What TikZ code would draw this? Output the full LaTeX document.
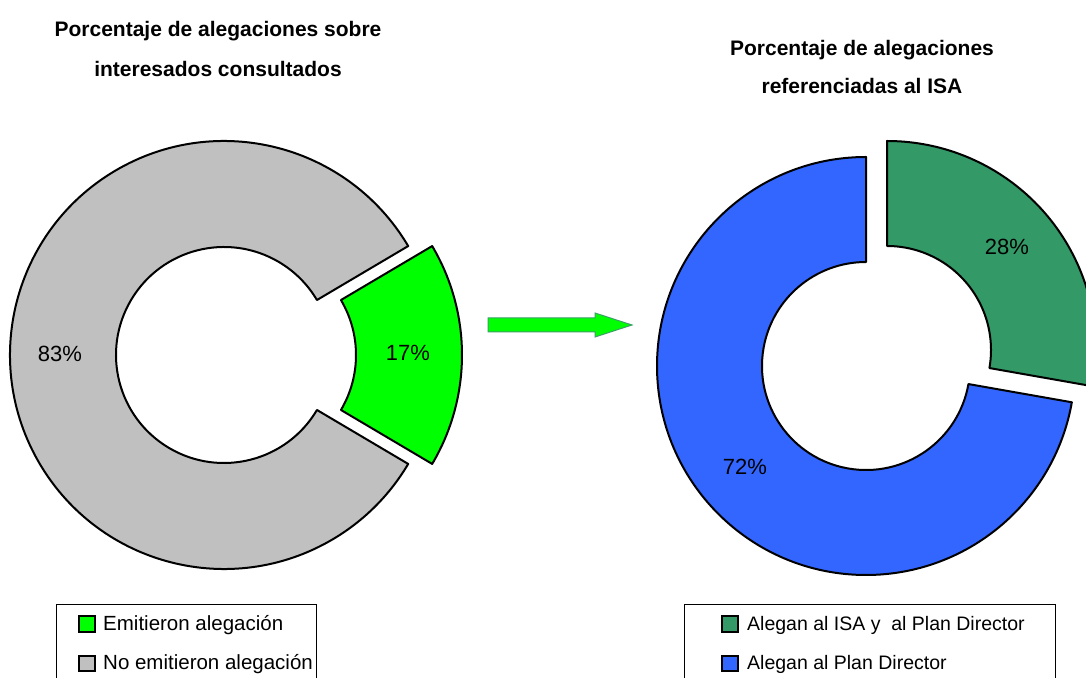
\documentclass[tikz,border=0pt]{standalone}
\usepackage{fontspec}
\setmainfont{Liberation Sans}

\definecolor{gris}{HTML}{C0C0C0}
\definecolor{verde}{HTML}{00FF00}
\definecolor{azul}{HTML}{3366FF}
\definecolor{verdeosc}{HTML}{339966}
\definecolor{bordeflecha}{HTML}{3C9F6A}

\begin{document}
\begin{tikzpicture}[x=1pt,y=1pt,
    sector/.style={draw=black, line width=2pt, line join=round},
    porcentaje/.style={font=\fontsize{22}{26}\selectfont, inner sep=0pt},
    titulo/.style={font=\bfseries\fontsize{21}{25}\selectfont, inner sep=0pt, anchor=base},
    leyenda/.style={font=\fontsize{20.5}{24}\selectfont, inner sep=0pt, anchor=base west},
    cuadro/.style={draw=black, line width=1.6pt}]
    \clip (0,0) rectangle (1086,677);

    % Títulos
    \node[titulo] (tituloA1) at (218,640) {Porcentaje de alegaciones sobre};
    \node[titulo] (tituloA2) at (218,600) {interesados consultados};
    \node[titulo] (tituloB1) at (862,621) {Porcentaje de alegaciones};
    \node[titulo] (tituloB2) at (862,583) {referenciadas al ISA};

    % Anillo izquierdo
    \filldraw[sector, fill=gris] ([shift={(224,322)}]30.6:214) arc[start angle=30.6, end angle=329.4, radius=214]
        -- ([shift={(224,322)}]329.4:108) arc[start angle=329.4, end angle=30.6, radius=108] -- cycle;
    \filldraw[sector, fill=verde] ([shift={(248,322)}]-30.6:214) arc[start angle=-30.6, end angle=30.6, radius=214]
        -- ([shift={(248,322)}]30.6:108) arc[start angle=30.6, end angle=-30.6, radius=108] -- cycle;
    \node[porcentaje] (porcNo) at (60,323) {83\%};
    \node[porcentaje] (porcSi) at (408,324) {17\%};

    % Flecha
    \filldraw[fill=verde, draw=bordeflecha, line width=1pt]
        (488,359) -- (595,359) -- (595,364) -- (632,352) -- (595,340) -- (595,345) -- (488,345) -- cycle;

    % Anillo derecho
    \filldraw[sector, fill=azul] ([shift={(866,311)}]90:209) arc[start angle=90, end angle=350, radius=209]
        -- ([shift={(866,311)}]350:104) arc[start angle=350, end angle=90, radius=104] -- cycle;
    \filldraw[sector, fill=verdeosc] ([shift={(887,327)}]-10:209) arc[start angle=-10, end angle=90, radius=209]
        -- ([shift={(887,327)}]90:104) arc[start angle=90, end angle=-10, radius=104] -- cycle;
    \node[porcentaje] (porcISA) at (1007,430) {28\%};
    \node[porcentaje] (porcPlan) at (745,210) {72\%};

    % Leyendas
    \draw[line width=0.8pt] (56,73) rectangle (316,-10);
    \filldraw[cuadro, fill=verde] (79,45) rectangle (95,61);
    \node[leyenda] (leyA1) at (103,46) {Emitieron alegación};
    \filldraw[cuadro, fill=gris] (79,6) rectangle (95,21);
    \node[leyenda] (leyA2) at (103,8) {No emitieron alegación};

    \draw[line width=0.8pt] (684,73) rectangle (1055,-10);
    \filldraw[cuadro, fill=verdeosc] (722,45) rectangle (738,61);
    \node[leyenda, font=\fontsize{19.5}{23}\selectfont] (leyB1) at (747,46) {Alegan al ISA y\ \ al Plan Director};
    \filldraw[cuadro, fill=azul] (722,6) rectangle (738,21);
    \node[leyenda, font=\fontsize{19.5}{23}\selectfont] (leyB2) at (747,8) {Alegan al Plan Director};
\end{tikzpicture}
\end{document}
